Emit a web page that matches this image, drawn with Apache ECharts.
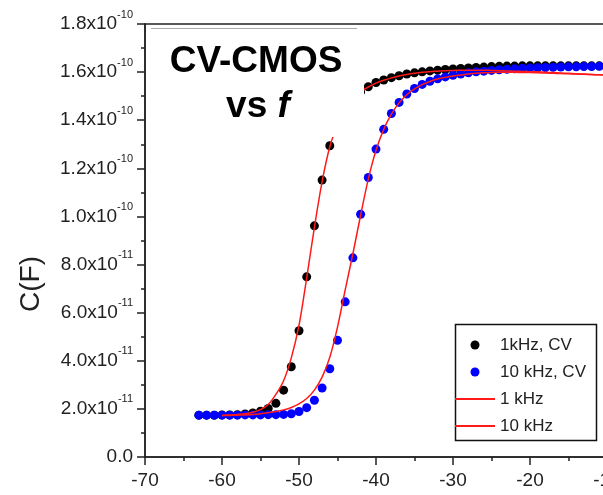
<!DOCTYPE html>
<html>
<head>
<meta charset="utf-8">
<title>CV-CMOS vs f</title>
<script src="https://cdn.jsdelivr.net/npm/echarts@6/dist/echarts.min.js"></script>
<style>
  html, body { margin: 0; padding: 0; background: #fff; }
  #chart { width: 603px; height: 495px; }
</style>
</head>
<body>
<div id="chart"></div>
<script>
// Capacitance values below are in units of 1e-11 F.
const CAP_UNIT = 1e-11;

// Gate voltage of the measured points (V)
const measuredVolts = [
  -63, -62, -61, -60, -59, -58, -57, -56, -55, -54, -53, -52, -51, -50,
  -49, -48, -47, -46, -45, -44, -43, -42, -41, -40, -39, -38, -37, -36,
  -35, -34, -33, -32, -31, -30, -29, -28, -27, -26, -25, -24, -23, -22,
  -21, -20, -19, -18, -17, -16, -15, -14, -13, -12, -11, -10
];

// 1 kHz CV measurement
const cv1kHz = [
  1.74, 1.74, 1.74, 1.75, 1.75, 1.76, 1.79, 1.83, 1.90, 2.02, 2.23, 2.78, 3.75, 5.25,
  7.49, 9.61, 11.51, 12.94, 13.90, 14.50, 14.92, 15.18, 15.39, 15.57, 15.67, 15.77, 15.85, 15.92,
  15.97, 16.01, 16.05, 16.08, 16.11, 16.13, 16.15, 16.17, 16.19, 16.21, 16.23, 16.24, 16.25, 16.25,
  16.26, 16.26, 16.26, 16.26, 16.26, 16.26, 16.26, 16.26, 16.26, 16.26, 16.26, 16.26
];

// 10 kHz CV measurement
const cv10kHz = [
  1.74, 1.74, 1.74, 1.74, 1.74, 1.74, 1.75, 1.75, 1.75, 1.76, 1.76, 1.77, 1.80, 1.89,
  2.05, 2.36, 2.87, 3.67, 4.85, 6.45, 8.28, 10.09, 11.62, 12.80, 13.62, 14.28, 14.74, 15.09,
  15.32, 15.49, 15.62, 15.72, 15.80, 15.87, 15.92, 15.97, 16.01, 16.04, 16.07, 16.10, 16.12, 16.14,
  16.16, 16.17, 16.18, 16.19, 16.20, 16.21, 16.22, 16.22, 16.23, 16.23, 16.24, 16.24
];

// Gate voltage of the fitted curves (V)
const fitVolts = [
  -60, -59, -58, -57, -56, -55, -54, -53, -52, -51, -50, -49, -48, -47, -46, -45, -44,
  -43, -42, -41, -40, -39, -38, -37, -36, -35, -34, -33, -32, -31, -30, -29, -28, -27,
  -26, -25, -24, -23, -22, -21, -20, -19, -18, -17, -16, -15, -14, -13, -12, -11, -10
];

// Model fit, 1 kHz
const fit1kHz = [
  1.73, 1.75, 1.77, 1.80, 1.86, 1.97, 2.18, 2.60, 3.17, 4.12, 5.48, 7.45, 9.55, 11.45, 12.90, 13.80, 14.45,
  14.90, 15.18, 15.38, 15.54, 15.66, 15.76, 15.84, 15.90, 15.95, 15.99, 16.02, 16.04, 16.06, 16.07, 16.08, 16.08, 16.08,
  16.08, 16.07, 16.06, 16.05, 16.04, 16.03, 16.02, 16.01, 15.99, 15.98, 15.96, 15.95, 15.93, 15.92, 15.90, 15.89, 15.87
];

// Model fit, 10 kHz
const fit10kHz = [
  1.72, 1.73, 1.74, 1.75, 1.77, 1.80, 1.84, 1.89, 1.96, 2.06, 2.21, 2.43, 2.78, 3.32, 4.15, 5.40, 6.95,
  8.45, 10.05, 11.55, 12.75, 13.62, 14.25, 14.72, 15.06, 15.30, 15.48, 15.61, 15.71, 15.78, 15.84, 15.88, 15.92, 15.95,
  15.97, 15.98, 15.99, 15.99, 15.99, 15.98, 15.98, 15.97, 15.96, 15.95, 15.94, 15.93, 15.92, 15.91, 15.90, 15.89, 15.88
];

const seriesNames = ['1kHz, CV', '10 kHz, CV', '1 kHz', '10 kHz'];

const NARROW = '"Liberation Sans Narrow", "Arial Narrow", "Liberation Sans", Arial, sans-serif';
const SANS = '"Liberation Sans", Arial, Helvetica, sans-serif';
const INK = '#222';
const FIT_RED = '#ff1a1a';
// Thin horizontal bar used as the legend glyph of the fitted curves
const LINE_ICON = 'path://M0,0 H40 V2 H0 Z';

function pairs(xs, ys) {
  return xs.map((x, i) => [x, ys[i] * CAP_UNIT]);
}

// Tick labels like 1.6x10^-10 with a raised exponent
function capLabel(value) {
  const k = Math.round(value / 1e-12);
  if (k === 0) return '{m|0.0}';
  if (k >= 100) return '{m|' + (k / 100).toFixed(1) + 'x10}{e|-10}';
  return '{m|' + (k / 10).toFixed(1) + 'x10}{e|-11}';
}

const chart = echarts.init(document.getElementById('chart'), null, { renderer: 'canvas' });

chart.setOption({
  animation: false,
  backgroundColor: '#fff',
  grid: {
    left: 145, top: 24, right: -4, bottom: 38,
    outerBoundsMode: 'none',
    containLabel: false,
    show: true, borderColor: INK, borderWidth: 1.5, backgroundColor: 'transparent'
  },
  xAxis: {
    type: 'value',
    min: -70, max: -10, interval: 10,
    axisLine: { lineStyle: { color: INK, width: 1.5 } },
    axisTick: { length: 8, lineStyle: { color: INK, width: 1.5 } },
    minorTick: { show: true, splitNumber: 2, length: 4, lineStyle: { color: INK, width: 1.5 } },
    splitLine: { show: false },
    axisLabel: { margin: 14, fontSize: 19, color: INK, fontFamily: NARROW }
  },
  yAxis: {
    type: 'value',
    min: 0, max: 18 * CAP_UNIT, interval: 2 * CAP_UNIT,
    axisLine: { show: true, lineStyle: { color: INK, width: 1.5 } },
    axisTick: { show: true, length: 8, lineStyle: { color: INK, width: 1.5 } },
    minorTick: { show: true, splitNumber: 2, length: 4, lineStyle: { color: INK, width: 1.5 } },
    splitLine: { show: false },
    axisLabel: {
      margin: 12,
      formatter: capLabel,
      rich: {
        m: { fontSize: 19, lineHeight: 30, color: INK, fontFamily: NARROW },
        e: { fontSize: 11, lineHeight: 12, verticalAlign: 'top', color: INK, fontFamily: NARROW }
      }
    }
  },
  legend: {
    orient: 'vertical',
    left: 455, top: 335,
    padding: 0,
    itemWidth: 40, itemHeight: 9, itemGap: 7,
    symbolKeepAspect: true,
    textStyle: { fontSize: 17, lineHeight: 20, color: INK, fontFamily: NARROW },
    data: [
      { name: seriesNames[0], icon: 'circle' },
      { name: seriesNames[1], icon: 'circle' },
      { name: seriesNames[2], icon: LINE_ICON },
      { name: seriesNames[3], icon: LINE_ICON }
    ]
  },
  graphic: [
    {
      type: 'rect', z: 3,
      shape: { x: 455.5, y: 324.5, width: 141, height: 116 },
      style: { fill: '#fff', stroke: '#111', lineWidth: 1.5 }
    },
    {
      type: 'rect', z: 20,
      shape: { x: 150, y: 29, width: 214, height: 108 },
      style: { fill: '#fff' }
    },
    {
      type: 'line', z: 21,
      shape: { x1: 151, y1: 28.5, x2: 357, y2: 28.5 },
      style: { stroke: '#aaa', lineWidth: 1 }
    },
    {
      type: 'text', z: 22,
      x: 256, y: 62,
      style: {
        text: 'CV-CMOS', fill: '#000',
        font: 'bold 37px ' + SANS,
        textAlign: 'center', textVerticalAlign: 'middle'
      }
    },
    {
      type: 'text', z: 22,
      x: 258, y: 107,
      style: {
        text: '{r|vs }{i|f}',
        textAlign: 'center', textVerticalAlign: 'middle',
        rich: {
          r: { fontSize: 37, fontWeight: 'bold', fontFamily: SANS, fill: '#000' },
          i: { fontSize: 37, fontWeight: 'bold', fontStyle: 'italic', fontFamily: SANS, fill: '#000' }
        }
      }
    },
    {
      type: 'text', z: 22,
      x: 31, y: 284, rotation: Math.PI / 2,
      style: {
        text: 'C(F)', fill: INK,
        font: '28px ' + NARROW,
        textAlign: 'center', textVerticalAlign: 'middle'
      }
    }
  ],
  series: [
    {
      name: seriesNames[0], type: 'scatter',
      data: pairs(measuredVolts, cv1kHz),
      symbol: 'circle', symbolSize: 9,
      itemStyle: { color: '#000', opacity: 1 }
    },
    {
      name: seriesNames[1], type: 'scatter',
      data: pairs(measuredVolts, cv10kHz),
      symbol: 'circle', symbolSize: 9,
      itemStyle: { color: '#0000ff', opacity: 1 }
    },
    {
      name: seriesNames[2], type: 'line',
      data: pairs(fitVolts, fit1kHz),
      symbol: 'none', showSymbol: false,
      smooth: 0.3,
      lineStyle: { color: FIT_RED, width: 1.5 },
      itemStyle: { color: FIT_RED }
    },
    {
      name: seriesNames[3], type: 'line',
      data: pairs(fitVolts, fit10kHz),
      symbol: 'none', showSymbol: false,
      smooth: 0.3,
      lineStyle: { color: FIT_RED, width: 1.5 },
      itemStyle: { color: FIT_RED }
    }
  ]
});
</script>
</body>
</html>
